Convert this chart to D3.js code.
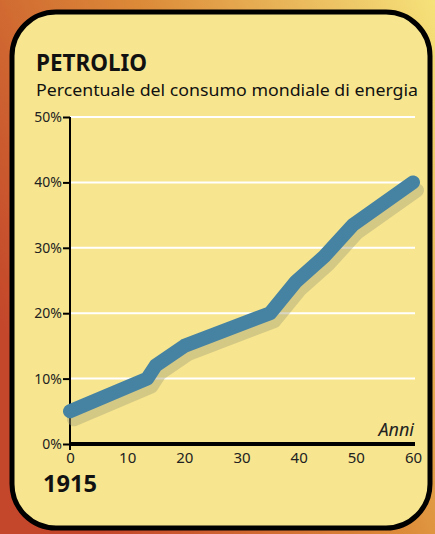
<!DOCTYPE html>
<html>
<head>
<meta charset="utf-8">
<script src="https://cdn.jsdelivr.net/npm/d3@7"></script>
<style>
  body { margin: 0; }
  svg { display: block; font-family: 'Noto Sans', sans-serif; }
</style>
</head>
<body>
<svg width="435" height="534"></svg>
<script>
'use strict';

var years = [0, 13.5, 15, 20, 35, 39.5, 44.5, 49.5, 60];
var share = [5, 10, 12, 15, 20, 24.8, 28.7, 33.5, 40];
var yTicks = [0, 10, 20, 30, 40, 50];
var xTicks = [0, 10, 20, 30, 40, 50, 60];

var svg = d3.select('svg');
var defs = svg.append('defs');
var grad = defs.append('linearGradient').attr('id', 'bg')
    .attr('x1', '0').attr('y1', '0.6').attr('x2', '1').attr('y2', '0');
grad.append('stop').attr('offset', '0').attr('stop-color', '#c4472b');
grad.append('stop').attr('offset', '0.5').attr('stop-color', '#dc8a38');
grad.append('stop').attr('offset', '1').attr('stop-color', '#f6e27a');

svg.append('rect').attr('width', 435).attr('height', 534).attr('fill', 'url(#bg)');

// card
svg.append('rect')
    .attr('x', 12).attr('y', 12)
    .attr('width', 418).attr('height', 516)
    .attr('rx', 44)
    .attr('fill', '#f7e68f')
    .attr('stroke', '#000')
    .attr('stroke-width', 5);

var x = d3.scaleLinear().domain([0, 60]).range([70, 413]);
var y = d3.scaleLinear().domain([0, 50]).range([444, 117]);

// gridlines
svg.append('g').selectAll('line')
    .data(yTicks.slice(1))
    .enter().append('line')
    .attr('x1', x(0)).attr('x2', 415)
    .attr('y1', function(d) { return y(d); })
    .attr('y2', function(d) { return y(d); })
    .attr('stroke', '#fff')
    .attr('stroke-width', 2);

// y axis
var yAxis = svg.append('g')
    .attr('transform', 'translate(' + x(0) + ',0)')
    .attr('font-size', 14)
    .call(d3.axisLeft(y).tickValues(yTicks).tickSize(7).tickPadding(1)
        .tickFormat(function(d) { return d + '%'; }));
yAxis.attr('font-size', 14).attr('font-family', "'Noto Sans', sans-serif");
yAxis.select('.domain').attr('stroke', '#000').attr('stroke-width', 2)
    .attr('d', 'M0,' + y(50) + 'V' + y(0));
yAxis.selectAll('.tick line').attr('stroke', '#000').attr('stroke-width', 2);
yAxis.selectAll('.tick text').attr('fill', '#222');

var line = d3.line()
    .x(function(d) { return x(d[0]); })
    .y(function(d) { return y(d[1]); });
var pts = years.map(function(d, i) { return [d, share[i]]; });

// shadow
svg.append('path')
    .attr('d', line(pts))
    .attr('transform', 'translate(4,8)')
    .attr('fill', 'none')
    .attr('stroke', '#a9a37a')
    .attr('stroke-opacity', 0.45)
    .attr('stroke-width', 14)
    .attr('stroke-linecap', 'round')
    .attr('stroke-linejoin', 'round');

svg.append('path')
    .attr('d', line(pts))
    .attr('fill', 'none')
    .attr('stroke', '#4683a2')
    .attr('stroke-width', 14)
    .attr('stroke-linecap', 'round')
    .attr('stroke-linejoin', 'round');

// x axis
var xAxis = svg.append('g')
    .attr('transform', 'translate(0,' + y(0) + ')')
    .call(d3.axisBottom(x).tickValues(xTicks).tickSize(0).tickPadding(8));
xAxis.attr('font-size', 15).attr('font-family', "'Noto Sans', sans-serif");
xAxis.select('.domain').attr('stroke', '#000').attr('stroke-width', 4)
    .attr('d', 'M' + x(0) + ',0H415');
xAxis.selectAll('.tick text').attr('fill', '#222');
xAxis.append('line').attr('x1', x(0)).attr('x2', x(0))
    .attr('y1', 0).attr('y2', 6).attr('stroke', '#000').attr('stroke-width', 2);

svg.append('text')
    .attr('x', 414).attr('y', 436)
    .attr('text-anchor', 'end')
    .style('font-style', 'italic')
    .style('font-size', '18px')
    .attr('fill', '#222')
    .text('Anni');

svg.append('text')
    .attr('x', 43).attr('y', 492)
    .style('font-weight', 'bold')
    .style('font-size', '24px')
    .attr('fill', '#111')
    .attr('textLength', 54)
    .attr('lengthAdjust', 'spacingAndGlyphs')
    .text('1915');

svg.append('text')
    .attr('x', 36).attr('y', 71)
    .style('font-weight', 'bold')
    .style('font-size', '23px')
    .attr('fill', '#111')
    .attr('textLength', 111)
    .attr('lengthAdjust', 'spacingAndGlyphs')
    .text('PETROLIO');

svg.append('text')
    .attr('x', 36).attr('y', 96)
    .style('font-size', '17px')
    .attr('fill', '#111')
    .attr('textLength', 382)
    .attr('lengthAdjust', 'spacingAndGlyphs')
    .text('Percentuale del consumo mondiale di energia');
</script>
</body>
</html>
